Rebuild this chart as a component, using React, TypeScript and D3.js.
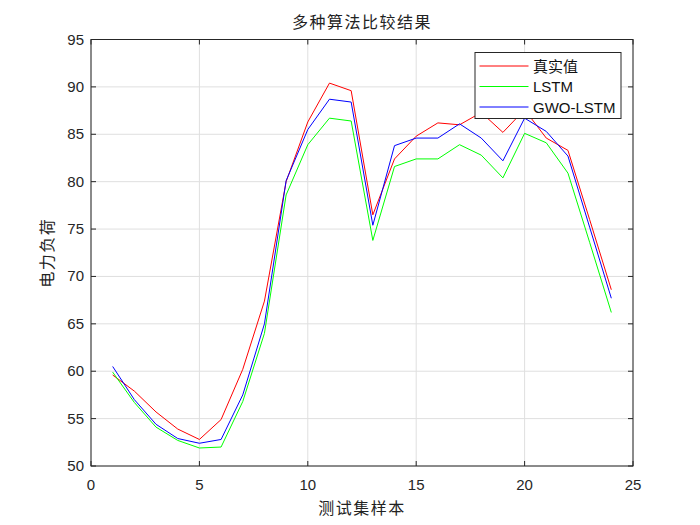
import React from "react";
import * as d3 from "d3";

const samples = d3.range(1, 25);
const actual = [59.6, 57.9, 55.7, 53.9, 52.8, 54.9, 60.2, 67.4, 80.0, 86.3, 90.4, 89.6, 76.5, 82.4, 84.8, 86.2, 86.0, 87.3, 85.2, 87.6, 84.6, 83.3, 76.0, 68.6];
const lstm = [59.9, 56.7, 54.1, 52.7, 51.9, 52.0, 56.8, 64.0, 78.6, 83.9, 86.7, 86.4, 73.8, 81.6, 82.4, 82.4, 83.9, 82.8, 80.4, 85.1, 84.1, 80.9, 73.6, 66.2];
const gwo = [60.5, 57.0, 54.4, 52.9, 52.4, 52.8, 57.5, 65.0, 80.1, 85.5, 88.7, 88.4, 75.4, 83.8, 84.6, 84.6, 86.1, 84.6, 82.2, 86.7, 85.3, 82.7, 75.2, 67.7];
const xTicks = [0, 5, 10, 15, 20, 25];
const yTicks = [50, 55, 60, 65, 70, 75, 80, 85, 90, 95];
const seriesNames = ["真实值", "LSTM", "GWO-LSTM"];
const seriesColors = ["#ff0000", "#00ff00", "#0000ff"];

export default function App() {
  const W = 700, H = 525;
  const L = 91, R = 633, T = 39.5, B = 466;
  const x = d3.scaleLinear().domain([0, 25]).range([L, R]);
  const y = d3.scaleLinear().domain([50, 95]).range([B, T]);
  const line = d3.line<number>().x((_, i) => x(samples[i])).y((d) => y(d));
  const series = [actual, lstm, gwo];
  const axisColor = "#262626";
  const font = "Arial, 'Liberation Sans', sans-serif";
  const tl = 5;
  return (
    <svg width={W} height={H} style={{ position: "absolute", left: 0, top: 0, background: "#fff" }}>
      <rect x={0} y={0} width={W} height={H} fill="#fff" />
      <rect x={L} y={T} width={R - L} height={B - T} fill="#fff" />
      {xTicks.map((t) => (
        <line key={"gx" + t} x1={x(t)} x2={x(t)} y1={T} y2={B} stroke="#dfdfdf" strokeWidth={1} />
      ))}
      {yTicks.map((t) => (
        <line key={"gy" + t} x1={L} x2={R} y1={y(t)} y2={y(t)} stroke="#dfdfdf" strokeWidth={1} />
      ))}
      {series.map((s, k) => (
        <path key={k} d={line(s) || ""} fill="none" stroke={seriesColors[k]} strokeWidth={1} />
      ))}
      <rect x={L} y={T} width={R - L} height={B - T} fill="none" stroke={axisColor} strokeWidth={1} />
      {xTicks.map((t) => (
        <g key={"tx" + t}>
          <line x1={x(t)} x2={x(t)} y1={B} y2={B - tl} stroke={axisColor} />
          <line x1={x(t)} x2={x(t)} y1={T} y2={T + tl} stroke={axisColor} />
          <text x={x(t)} y={B + 24} textAnchor="middle" fontFamily={font} fontSize={15} fill={axisColor}>
            {t}
          </text>
        </g>
      ))}
      {yTicks.map((t) => (
        <g key={"ty" + t}>
          <line x1={L} x2={L + tl} y1={y(t)} y2={y(t)} stroke={axisColor} />
          <line x1={R} x2={R - tl} y1={y(t)} y2={y(t)} stroke={axisColor} />
          <text x={L - 7} y={y(t) + 5} textAnchor="end" fontFamily={font} fontSize={15} fill={axisColor}>
            {t}
          </text>
        </g>
      ))}
      <text x={(L + R) / 2} y={28} textAnchor="middle" fontFamily="'Noto Sans CJK SC', sans-serif" fontSize={16} fill="#222" letterSpacing={1.5}>
        多种算法比较结果
      </text>
      <text x={(L + R) / 2} y={514} textAnchor="middle" fontFamily="'Noto Sans CJK SC', sans-serif" fontSize={16} fill="#222" letterSpacing={1.5}>
        测试集样本
      </text>
      <text transform={`translate(53, ${(T + B) / 2}) rotate(-90)`} textAnchor="middle" fontFamily="'Noto Sans CJK SC', sans-serif" fontSize={16} fill="#222" letterSpacing={1.5}>
        电力负荷
      </text>
      <g>
        <rect x={475} y={52.5} width={146} height={66} fill="#fff" stroke={axisColor} strokeWidth={1} />
        {seriesNames.map((n, k) => {
          const yy = 66 + k * 20.5;
          return (
            <g key={n}>
              <line x1={479.5} x2={528.5} y1={yy} y2={yy} stroke={seriesColors[k]} strokeWidth={1} />
              <text x={533} y={yy + 5.5} fontFamily={k === 0 ? "'Noto Sans CJK SC', sans-serif" : font} fontSize={k === 0 ? 15 : 15} fill="#111">
                {n}
              </text>
            </g>
          );
        })}
      </g>
    </svg>
  );
}
